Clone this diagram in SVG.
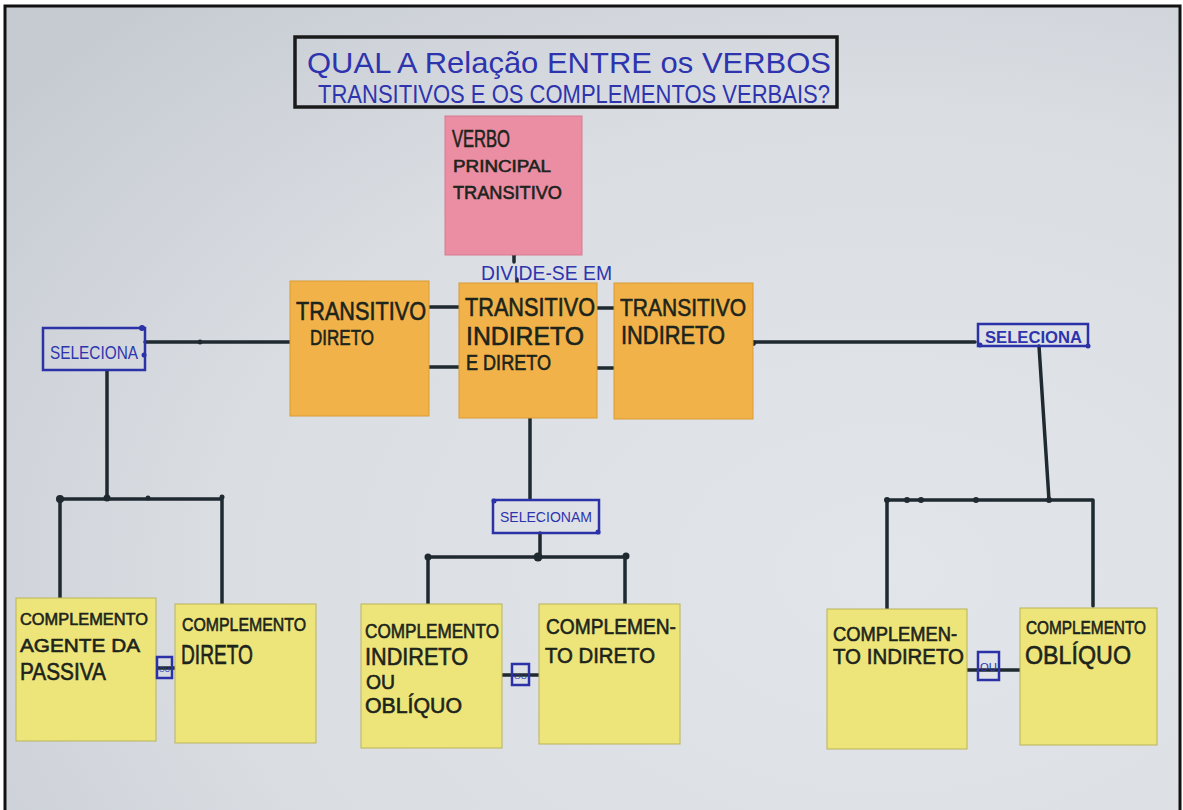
<svg xmlns="http://www.w3.org/2000/svg" width="1183" height="810" viewBox="0 0 1183 810">
  <defs>
    <radialGradient id="board" cx="0.75" cy="0.7" r="0.95">
      <stop offset="0" stop-color="#e2e5e9"/>
      <stop offset="0.6" stop-color="#dadee3"/>
      <stop offset="1" stop-color="#c6cbd2"/>
    </radialGradient>
    <style>
      .frame { fill: none; stroke: #111; stroke-width: 3; }
      .wire { fill: none; stroke: #1f2930; stroke-width: 3.5; stroke-linecap: round; stroke-linejoin: round; }
      .dot { fill: #1f2930; }
      .bluebox { fill: none; stroke: #2b31a6; stroke-width: 2.5; }
      .bluedot { fill: #2b31a6; }
      .pink { fill: #eb8da3; stroke: #d77a90; stroke-width: 1; }
      .orange { fill: #f1b349; stroke: #d99a35; stroke-width: 1; }
      .yellow { fill: #ede57a; stroke: #b9b35a; stroke-width: 1; }
      .ink { font-family: "Liberation Sans", "DejaVu Sans", sans-serif; fill: #1c241c; stroke: #1c241c; stroke-width: 0.6; }
      .blue { font-family: "Liberation Sans", "DejaVu Sans", sans-serif; fill: #2d34ae; }
    </style>
  </defs>

  <!-- board background and outer frame -->
  <rect x="0" y="0" width="1183" height="810" fill="#ffffff"/>
  <rect x="5" y="6" width="1175" height="810" fill="url(#board)"/>
  <path d="M5,812 V6 H1180 V812" class="frame"/>

  <!-- title -->
  <g id="title">
    <rect x="295" y="37" width="542" height="70" fill="none" stroke="#1a1a1a" stroke-width="3.5"/>
    <text class="blue" x="307" y="73" font-size="30" textLength="524" lengthAdjust="spacingAndGlyphs">QUAL A Relação ENTRE os VERBOS</text>
    <text class="blue" x="318" y="103" font-size="25" textLength="512" lengthAdjust="spacingAndGlyphs">TRANSITIVOS E OS COMPLEMENTOS VERBAIS?</text>
  </g>

  <!-- connectors -->
  <g id="connectors">
    <!-- main verb to its types -->
    <path class="wire" d="M514,255 V262 M517,279 V283"/>
    <circle class="dot" cx="514" cy="254" r="2.5"/>
    <!-- links between the three orange notes -->
    <path class="wire" d="M429,307 H459 M429,367 H459 M597,308 H614 M597,368 H614"/>
    <!-- left branch -->
    <path class="wire" d="M145,342 H290"/>
    <circle class="dot" cx="200" cy="342" r="2.5"/>
    <path class="wire" d="M107,371 V498"/>
    <path class="wire" d="M60,499 H222 M60,499 V600 M222,499 V604"/>
    <circle class="dot" cx="60" cy="499" r="4"/>
    <circle class="dot" cx="107" cy="498" r="3.5"/>
    <circle class="dot" cx="148" cy="498" r="2.5"/>
    <circle class="dot" cx="222" cy="497" r="2.5"/>
    <!-- centre branch -->
    <path class="wire" d="M530,418 V499"/>
    <path class="wire" d="M540,533 V557 M428,557 H626 M428,557 V605 M625,557 V605"/>
    <circle class="dot" cx="428" cy="557" r="3.5"/>
    <circle class="dot" cx="538" cy="557" r="4.5"/>
    <circle class="dot" cx="626" cy="556" r="3.5"/>
    <!-- right branch -->
    <path class="wire" d="M753,342 H975"/>
    <circle class="dot" cx="753" cy="343" r="3"/>
    <path class="wire" d="M1039,346 L1049,500"/>
    <path class="wire" d="M887,500 H1093 M887,500 V609 M1093,500 V606"/>
    <circle class="dot" cx="887" cy="500" r="3"/>
    <circle class="dot" cx="907" cy="500" r="3"/>
    <circle class="dot" cx="921" cy="500" r="3"/>
    <circle class="dot" cx="976" cy="500" r="3"/>
    <circle class="dot" cx="1049" cy="500" r="3"/>
    <!-- "ou" links between yellow notes -->
    <path class="wire" d="M152,668 H176 M502,675 H539 M966,670 H1020"/>
  </g>

  <!-- main verb -->
  <g id="verbo-principal">
    <rect class="pink" x="445" y="116" width="137" height="139"/>
    <text class="ink" x="452" y="147" font-size="23" textLength="58" lengthAdjust="spacingAndGlyphs">VERBO</text>
    <text class="ink" x="453" y="172" font-size="17" textLength="98" lengthAdjust="spacingAndGlyphs">PRINCIPAL</text>
    <text class="ink" x="453" y="199" font-size="19" textLength="109" lengthAdjust="spacingAndGlyphs">TRANSITIVO</text>
  </g>

  <g id="divide-se">
    <text class="blue" x="481" y="280" font-size="21" textLength="131" lengthAdjust="spacingAndGlyphs">DIVIDE-SE EM</text>
  </g>

  <!-- verb types -->
  <g id="transitivo-direto">
    <rect class="orange" x="290" y="281" width="139" height="135"/>
    <text class="ink" x="296" y="320" font-size="25" textLength="130" lengthAdjust="spacingAndGlyphs">TRANSITIVO</text>
    <text class="ink" x="310" y="345" font-size="22" textLength="64" lengthAdjust="spacingAndGlyphs">DIRETO</text>
  </g>
  <g id="transitivo-indireto-e-direto">
    <rect class="orange" x="459" y="283" width="138" height="135"/>
    <text class="ink" x="465" y="316" font-size="25" textLength="130" lengthAdjust="spacingAndGlyphs">TRANSITIVO</text>
    <text class="ink" x="466" y="345" font-size="26" textLength="118" lengthAdjust="spacingAndGlyphs">INDIRETO</text>
    <text class="ink" x="466" y="370" font-size="22" textLength="85" lengthAdjust="spacingAndGlyphs">E DIRETO</text>
  </g>
  <g id="transitivo-indireto">
    <rect class="orange" x="614" y="283" width="139" height="136"/>
    <text class="ink" x="620" y="316" font-size="24" textLength="126" lengthAdjust="spacingAndGlyphs">TRANSITIVO</text>
    <text class="ink" x="621" y="344" font-size="25" textLength="104" lengthAdjust="spacingAndGlyphs">INDIRETO</text>
  </g>

  <!-- "seleciona" labels -->
  <g id="seleciona-esquerda">
    <rect class="bluebox" x="43" y="328" width="102" height="42"/>
    <circle class="bluedot" cx="142" cy="328" r="3"/>
    <circle class="bluedot" cx="144" cy="355" r="2.5"/>
    <text class="blue" x="50" y="359" font-size="19" textLength="88" lengthAdjust="spacingAndGlyphs">SELECIONA</text>
  </g>
  <g id="seleciona-direita">
    <rect class="bluebox" x="978" y="324" width="110" height="22"/>
    <circle class="bluedot" cx="980" cy="345" r="2.5"/>
    <circle class="bluedot" cx="1088" cy="346" r="2.5"/>
    <text class="blue" x="985" y="343" font-size="17" textLength="97" lengthAdjust="spacingAndGlyphs" font-weight="bold">SELECIONA</text>
  </g>
  <g id="selecionam">
    <rect class="bluebox" x="493" y="500" width="106" height="33"/>
    <circle class="bluedot" cx="494" cy="501" r="2.5"/>
    <circle class="bluedot" cx="598" cy="532" r="2.5"/>
    <text class="blue" x="500" y="522" font-size="14" textLength="92" lengthAdjust="spacingAndGlyphs">SELECIONAM</text>
  </g>

  <!-- complements -->
  <g id="complemento-agente-da-passiva">
    <rect class="yellow" x="16" y="598" width="140" height="143"/>
    <text class="ink" x="20" y="625" font-size="17" textLength="128" lengthAdjust="spacingAndGlyphs">COMPLEMENTO</text>
    <text class="ink" x="20" y="652" font-size="19" textLength="120" lengthAdjust="spacingAndGlyphs">AGENTE DA</text>
    <text class="ink" x="20" y="680" font-size="24" textLength="86" lengthAdjust="spacingAndGlyphs">PASSIVA</text>
  </g>
  <g id="complemento-direto-1">
    <rect class="yellow" x="175" y="604" width="141" height="139"/>
    <text class="ink" x="182" y="631" font-size="19" textLength="124" lengthAdjust="spacingAndGlyphs">COMPLEMENTO</text>
    <text class="ink" x="181" y="664" font-size="27" textLength="72" lengthAdjust="spacingAndGlyphs">DIRETO</text>
  </g>
  <g id="ou-1">
    <rect class="bluebox" x="157" y="657" width="15" height="21"/>
    <text class="blue" x="159" y="672" font-size="8" textLength="11" lengthAdjust="spacingAndGlyphs">OU</text>
  </g>

  <g id="complemento-indireto-ou-obliquo">
    <rect class="yellow" x="361" y="604" width="141" height="144"/>
    <text class="ink" x="365" y="638" font-size="20" textLength="134" lengthAdjust="spacingAndGlyphs">COMPLEMENTO</text>
    <text class="ink" x="365" y="665" font-size="23" textLength="103" lengthAdjust="spacingAndGlyphs">INDIRETO</text>
    <text class="ink" x="366" y="689" font-size="20" textLength="29" lengthAdjust="spacingAndGlyphs">OU</text>
    <text class="ink" x="365" y="713" font-size="22" textLength="97" lengthAdjust="spacingAndGlyphs">OBLÍQUO</text>
  </g>
  <g id="complemento-direto-2">
    <rect class="yellow" x="539" y="604" width="141" height="140"/>
    <text class="ink" x="546" y="634" font-size="22" textLength="130" lengthAdjust="spacingAndGlyphs">COMPLEMEN-</text>
    <text class="ink" x="545" y="663" font-size="22" textLength="110" lengthAdjust="spacingAndGlyphs">TO DIRETO</text>
  </g>
  <g id="ou-2">
    <rect class="bluebox" x="512" y="664" width="17" height="21"/>
    <text class="blue" x="514" y="679" font-size="8" textLength="13" lengthAdjust="spacingAndGlyphs">OU</text>
  </g>

  <g id="complemento-indireto">
    <rect class="yellow" x="827" y="609" width="140" height="140"/>
    <text class="ink" x="833" y="641" font-size="20" textLength="124" lengthAdjust="spacingAndGlyphs">COMPLEMEN-</text>
    <text class="ink" x="833" y="664" font-size="22" textLength="131" lengthAdjust="spacingAndGlyphs">TO INDIRETO</text>
  </g>
  <g id="complemento-obliquo">
    <rect class="yellow" x="1020" y="608" width="137" height="137"/>
    <text class="ink" x="1026" y="634" font-size="18" textLength="120" lengthAdjust="spacingAndGlyphs">COMPLEMENTO</text>
    <text class="ink" x="1025" y="664" font-size="26" textLength="106" lengthAdjust="spacingAndGlyphs">OBLÍQUO</text>
  </g>
  <g id="ou-3">
    <rect class="bluebox" x="978" y="652" width="21" height="28"/>
    <text class="blue" x="980" y="671" font-size="10" textLength="17" lengthAdjust="spacingAndGlyphs">OU</text>
  </g>
</svg>
